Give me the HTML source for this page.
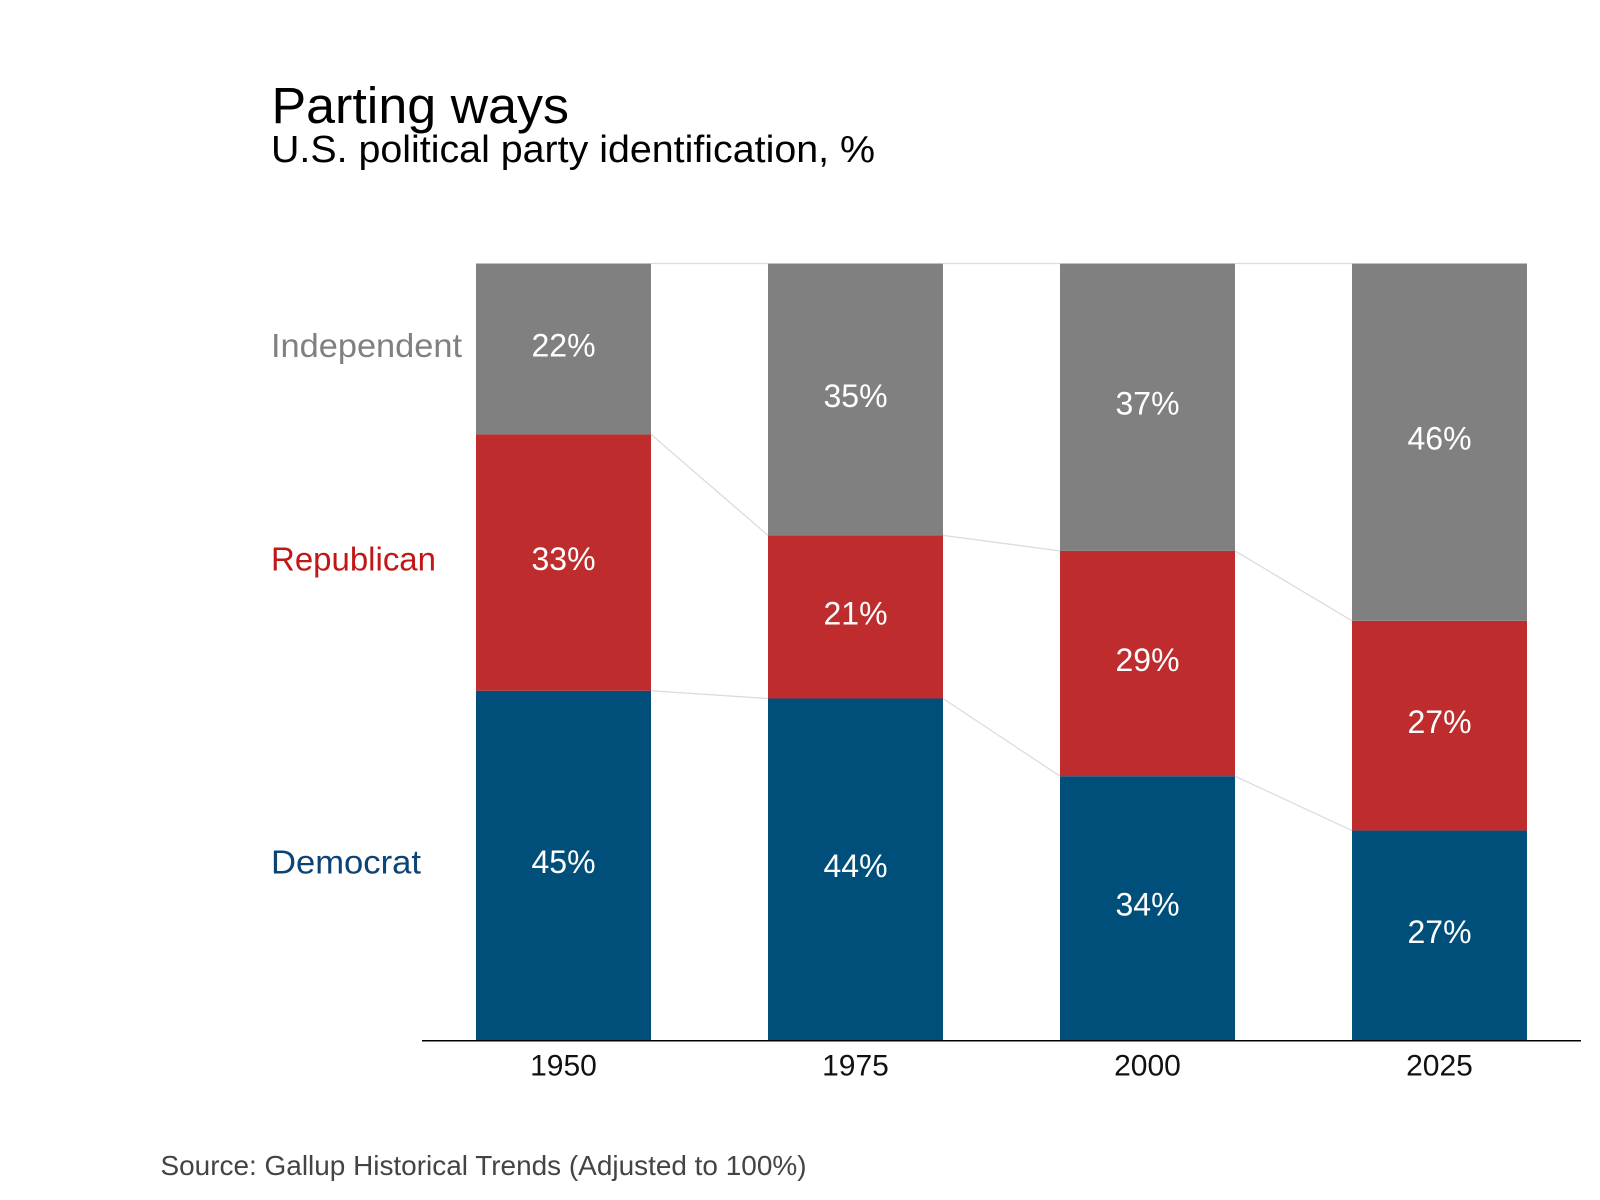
<!DOCTYPE html>
<html lang="en">
<head>
<meta charset="utf-8">
<title>Parting ways</title>
<style>
  html, body { margin: 0; padding: 0; background: #ffffff; }
  svg { display: block; }
  text { font-family: "Liberation Sans", sans-serif; }
</style>
</head>
<body>
<svg id="chart" xmlns="http://www.w3.org/2000/svg" width="1600" height="1200" viewBox="0 0 1600 1200">
  <rect x="0" y="0" width="1600" height="1200" fill="#ffffff"/>
  <text x="271.5" y="123" font-size="51" fill="#000000" textLength="297.5" lengthAdjust="spacingAndGlyphs">Parting ways</text>
  <text x="271" y="162" font-size="38" fill="#000000" textLength="604" lengthAdjust="spacingAndGlyphs">U.S. political party identification, %</text>
  <text x="160.5" y="1175" font-size="28" fill="#444444" textLength="646" lengthAdjust="spacingAndGlyphs">Source: Gallup Historical Trends (Adjusted to 100%)</text>
  <g id="connectors"></g>
  <g id="bars"></g>
  <g id="values"></g>
  <g id="legend"></g>
  <g id="ticks"></g>
  <line x1="422" y1="1040.8" x2="1581" y2="1040.8" stroke="#000000" stroke-width="1.5"/>
</svg>
<script>
// Chart data
const years = ['1950', '1975', '2000', '2025'];
const democrat = [45, 44, 34, 27];
const republican = [33, 21, 29, 27];
const independent = [22, 35, 37, 46];

const NS = 'http://www.w3.org/2000/svg';

// Axis functions
const plotLeft = 476;
const plotStep = 292;
const barWidth = 175;
const plotBottom = 1040.3;
const plotTop = 263.5;
const plotMax = 100;
function xBand(i) { return plotLeft + plotStep * i; }
function yScale(v) { return plotBottom - (v / plotMax) * (plotBottom - plotTop); }

const seriesList = [
  { key: 'democrat', label: 'Democrat', values: democrat, fill: '#004F7B', text: '#0C4476', labelWidth: 150 },
  { key: 'republican', label: 'Republican', values: republican, fill: '#BE2C2E', text: '#C01818', labelWidth: 165 },
  { key: 'independent', label: 'Independent', values: independent, fill: '#808080', text: '#808080', labelWidth: 191 }
];

const barsG = document.getElementById('bars');
const valuesG = document.getElementById('values');
const legendG = document.getElementById('legend');
const connG = document.getElementById('connectors');
const ticksG = document.getElementById('ticks');

function connector(i, topA, topB, name) {
  const ln = document.createElementNS(NS, 'line');
  
  
  ln.setAttribute('x1', xBand(i) + barWidth);
  ln.setAttribute('y1', yScale(topA));
  ln.setAttribute('x2', xBand(i + 1));
  ln.setAttribute('y2', yScale(topB));
  ln.setAttribute('stroke', '#dcdcdc');
  ln.setAttribute('stroke-width', '1.3');
  connG.appendChild(ln);
}

years.forEach(function (year, i) {
  let cum = 0;
  seriesList.forEach(function (s) {
    const start = cum;
    const end = cum + s.values[i];
    cum = end;
    const yTop = yScale(end);
    const yBot = yScale(start);

    const r = document.createElementNS(NS, 'rect');
    
    
    r.setAttribute('x', xBand(i));
    r.setAttribute('y', yTop);
    r.setAttribute('width', barWidth);
    r.setAttribute('height', yBot - yTop);
    r.setAttribute('fill', s.fill);
    barsG.appendChild(r);

    const t = document.createElementNS(NS, 'text');
    
    
    t.setAttribute('x', xBand(i) + barWidth / 2);
    t.setAttribute('y', (yTop + yBot) / 2 + 7.5);
    t.setAttribute('text-anchor', 'middle');
    t.setAttribute('font-size', '32');
    t.setAttribute('fill', '#ffffff');
    t.textContent = s.values[i] + '%';
    valuesG.appendChild(t);

    if (i === 0) {
      const l = document.createElementNS(NS, 'text');
      
      
      l.setAttribute('x', 271);
      l.setAttribute('y', (yTop + yBot) / 2 + 8);
      l.setAttribute('font-size', '33');
      l.setAttribute('fill', s.text);
      l.setAttribute('textLength', s.labelWidth);
      l.setAttribute('lengthAdjust', 'spacingAndGlyphs');
      l.textContent = s.label;
      legendG.appendChild(l);
    }
  });

  const tick = document.createElementNS(NS, 'text');
  
  
  tick.setAttribute('x', xBand(i) + barWidth / 2);
  tick.setAttribute('y', 1075.5);
  tick.setAttribute('text-anchor', 'middle');
  tick.setAttribute('font-size', '30');
  tick.setAttribute('fill', '#111111');
  tick.textContent = year;
  ticksG.appendChild(tick);

  if (i < years.length - 1) {
    connector(i, 100, 100, 'connector-top-' + year);
    connector(i, democrat[i] + republican[i], democrat[i + 1] + republican[i + 1], 'connector-republican-' + year);
    connector(i, democrat[i], democrat[i + 1], 'connector-democrat-' + year);
  }
});
</script>
</body>
</html>
